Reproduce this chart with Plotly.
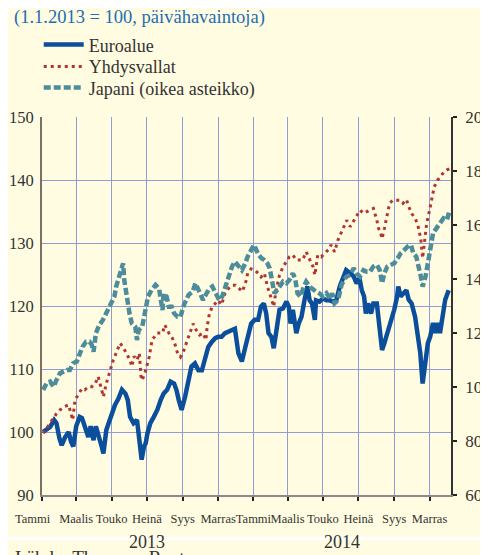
import pandas as pd
import plotly.graph_objects as go

START = pd.Timestamp("2013-01-01")
END = pd.Timestamp("2014-12-08")

# Euroalue (left axis), day offset from 1.1.2013 and index value
euro_days = [2, 8, 14, 21, 25, 30, 34, 40, 46, 50, 54, 59, 65, 69, 74, 80, 84, 89, 93, 99,
             103, 106, 111, 115, 120, 126, 132, 138, 144, 148, 152, 158, 164, 168, 172,
             176, 179, 182, 187, 193, 199, 205, 210, 216, 222, 228, 232, 236, 241, 247, 253,
             258, 264, 270, 276, 281, 287, 293, 299, 304, 310, 316, 322, 328, 333, 339, 345,
             351, 355, 361, 367, 373, 378, 383, 387, 391, 396, 400, 404, 410, 416, 422, 426,
             429, 433, 439, 443, 448, 453, 458, 462, 466, 471, 473, 479, 485, 491, 497, 502,
             508, 514, 520, 525, 532, 538, 543, 548, 552, 556, 559, 563, 568, 572, 578, 583,
             587, 591, 596, 602, 608, 613, 615, 619, 624, 629, 633, 638, 644, 648, 653, 657,
             662, 666, 670, 675, 679, 683, 687, 692, 696, 702]
euro_vals = [100.0, 100.3, 100.8, 101.9, 101.4, 99.0, 97.9, 99.2, 100.0, 98.5, 97.7, 100.9,
             102.4, 102.2, 100.8, 99.2, 100.9, 98.7, 100.9, 99.2, 97.7, 96.6, 100.3, 101.4,
             103.0, 104.3, 105.3, 106.7, 106.1, 105.1, 102.4, 101.4, 101.9, 99.2, 95.6,
             97.7, 98.2, 99.8, 101.4, 102.4, 103.5, 105.1, 106.1, 106.7, 108.0, 107.7, 106.7,
             105.1, 103.5, 105.6, 108.2, 110.4, 110.9, 109.8, 109.8, 111.4, 113.5, 114.3,
             114.9, 115.1, 115.1, 115.7, 115.9, 116.2, 116.4, 112.5, 111.2, 113.5, 115.1,
             117.2, 117.8, 117.8, 119.9, 120.4, 118.8, 115.7, 115.1, 113.3, 115.7, 119.4,
             119.6, 120.7, 119.9, 117.2, 119.4, 115.7, 117.2, 118.3, 120.9, 123.1, 120.9,
             120.4, 117.8, 120.9, 120.7, 121.2, 120.9, 120.9, 120.7, 120.9, 123.1, 124.6,
             125.7, 125.2, 124.7, 123.6, 124.4, 122.5, 121.5, 118.8, 120.4, 118.8, 120.4,
             120.4, 115.7, 113.0, 114.1, 115.7, 117.3, 119.4, 121.5, 123.1, 121.5, 122.0,
             122.5, 121.0, 120.4, 118.3, 115.1, 112.5, 107.7, 112.0, 114.1, 115.1, 117.3,
             115.7, 117.3, 115.7, 118.3, 121.0, 122.5]

# Yhdysvallat (left axis)
us_days = [2, 8, 14, 20, 25, 31, 38, 46, 50, 53, 57, 63, 69, 74, 80, 86, 92, 97, 101, 106,
           111, 118, 123, 130, 135, 141, 146, 152, 155, 159, 164, 168, 171, 173, 179, 185,
           190, 199, 208, 212, 219, 225, 230, 234, 239, 245, 251, 257, 261, 266, 272, 278,
           283, 285, 289, 294, 299, 304, 310, 316, 322, 328, 334, 340, 346, 352, 355, 361,
           367, 373, 378, 384, 389, 393, 397, 400, 404, 410, 416, 422, 427, 433, 439, 445,
           450, 456, 462, 468, 471, 476, 482, 488, 494, 499, 505, 511, 517, 523, 526, 532,
           538, 543, 549, 555, 561, 566, 572, 578, 581, 584, 587, 591, 595, 600, 606, 611,
           617, 623, 629, 633, 638, 644, 648, 652, 654, 657, 662, 664, 669, 673, 677, 683,
           689, 694, 699, 704]
us_vals = [99.8, 100.6, 101.4, 102.4, 102.9, 103.5, 104.0, 104.3, 102.9, 101.9, 105.1, 106.1,
           106.9, 106.7, 107.2, 107.2, 107.7, 108.8, 107.2, 105.6, 107.7, 109.8, 111.4, 113.0,
           114.1, 113.3, 112.5, 111.4, 110.4, 112.0, 111.4, 112.5, 108.8, 108.2, 109.8, 111.9,
           114.6, 115.7, 115.7, 117.0, 115.7, 114.9, 113.8, 112.5, 111.9, 113.0, 114.6, 116.2,
           117.2, 116.2, 115.4, 115.7, 114.6, 116.7, 118.8, 119.9, 120.4, 120.9, 120.2, 122.0,
           122.8, 123.3, 123.3, 122.8, 122.3, 123.9, 125.2, 125.9, 125.7, 125.2, 124.6, 125.2,
           123.1, 122.0, 120.9, 119.9, 122.5, 124.9, 126.2, 127.0, 127.8, 128.1, 127.3, 127.3,
           127.3, 128.6, 127.3, 126.2, 124.9, 128.1, 127.8, 128.4, 128.9, 129.7, 128.6, 130.5,
           131.8, 132.9, 133.6, 132.6, 133.6, 134.2, 135.2, 134.7, 135.0, 135.2, 135.5, 133.6,
           132.3, 131.8, 130.7, 132.3, 133.9, 136.3, 136.8, 136.8, 136.8, 136.3, 136.9, 135.8,
           134.7, 133.9, 133.1, 131.5, 130.5, 127.6, 131.0, 133.1, 135.2, 137.4, 138.9, 140.0,
           140.8, 141.3, 141.6, 141.8]

# Japani (right axis)
jp_days = [2, 8, 14, 20, 25, 31, 37, 43, 48, 54, 60, 65, 70, 76, 82, 86, 89, 93, 99, 105,
           111, 115, 120, 125, 128, 132, 136, 140, 142, 145, 148, 151, 155, 161, 164, 167,
           173, 179, 183, 189, 196, 202, 208, 210, 215, 219, 224, 228, 234, 239, 245, 253,
           260, 265, 272, 278, 284, 289, 294, 300, 306, 311, 317, 322, 328, 333, 339, 345,
           351, 355, 361, 366, 370, 374, 379, 384, 389, 393, 397, 401, 406, 410, 416, 422,
           427, 433, 437, 441, 446, 452, 456, 462, 468, 473, 479, 485, 491, 497, 501, 505,
           511, 517, 523, 526, 532, 538, 543, 549, 555, 561, 566, 572, 578, 583, 587, 591,
           596, 602, 608, 614, 619, 625, 631, 637, 641, 646, 650, 654, 657, 662, 666, 670,
           675, 679, 683, 687, 693, 699, 704]
jp_vals = [98.9, 101.4, 102.0, 100.1, 102.6, 105.1, 105.7, 106.3, 106.3, 108.8, 109.4, 112.5,
           114.9, 116.8, 116.8, 115.6, 113.1, 119.9, 123.0, 124.8, 127.3, 129.7, 131.0, 133.5,
           137.2, 140.2, 142.7, 145.8, 139.6, 134.7, 132.2, 127.3, 123.6, 122.3, 117.4, 121.1,
           122.3, 129.7, 133.5, 135.9, 137.8, 136.5, 128.5, 134.7, 133.5, 129.7, 129.7, 127.3,
           126.0, 126.0, 130.4, 134.1, 135.3, 138.4, 135.3, 132.2, 134.7, 136.5, 137.2, 134.7,
           132.2, 133.5, 137.2, 140.9, 144.6, 146.4, 144.6, 143.3, 145.8, 148.3, 150.7, 152.6,
           150.7, 148.9, 147.7, 147.0, 145.8, 144.0, 139.6, 134.7, 135.9, 137.2, 139.0, 138.4,
           139.6, 142.1, 140.2, 134.7, 133.5, 137.2, 139.0, 137.2, 135.9, 135.3, 134.7, 133.5,
           134.7, 132.8, 134.7, 131.0, 132.2, 137.8, 140.2, 140.9, 141.5, 144.0, 142.1, 140.9,
           143.3, 142.7, 142.7, 144.6, 145.2, 143.3, 138.4, 142.1, 144.6, 145.2, 145.8, 147.7,
           149.5, 150.7, 152.0, 152.6, 149.5, 148.3, 145.2, 140.9, 137.2, 140.9, 145.8, 152.0,
           156.9, 158.2, 159.4, 161.3, 162.5, 161.9, 165.6]

tick_dates = ["2013-01-01", "2013-03-01", "2013-05-01", "2013-07-01", "2013-09-01", "2013-11-01",
              "2014-01-01", "2014-03-01", "2014-05-01", "2014-07-01", "2014-09-01", "2014-11-01"]
tick_labels = ["Tammi", "Maalis", "Touko", "Heinä", "Syys", "Marras",
               "Tammi", "Maalis", "Touko", "Heinä", "Syys", "Marras"]
long_tick_dates = ["2013-01-01", "2013-07-01", "2014-01-01", "2014-07-01"]
years = ["2013", "2014"]
year_pos = ["2013-07-01", "2014-06-03"]


def to_dates(days):
    return [START + pd.Timedelta(days=d) for d in days]


# the first month label sits left of its tick in the original
shown_labels = list(tick_labels)
shown_labels[0] = tick_labels[0] + "\u00a0" * 6

BG = "#FFFCE1"
GRID = "#8E9CDA"
EU = "#0A4E9C"
USC = "#B23530"
JP = "#4C8C9B"
FONT = "Liberation Serif, Times New Roman, serif"

fig = go.Figure()
fig.add_trace(go.Scatter(x=to_dates(jp_days), y=jp_vals, yaxis="y2", mode="lines",
                         name="Japani (oikea asteikko)", legend="legend3",
                         line=dict(color=JP, width=4.5, dash="7px,3px")))
fig.add_trace(go.Scatter(x=to_dates(euro_days), y=euro_vals, mode="lines",
                         name="Euroalue", legend="legend",
                         line=dict(color=EU, width=4.5)))
fig.add_trace(go.Scatter(x=to_dates(us_days), y=us_vals, mode="lines",
                         name="Yhdysvallat", legend="legend2",
                         line=dict(color=USC, width=3, dash="3px,4px")))

leg_common = dict(x=-0.008, xanchor="left", yanchor="top", bgcolor="rgba(0,0,0,0)",
                  font=dict(size=18, color="#333333"), itemwidth=40)

fig.update_layout(
    width=480, height=547,
    margin=dict(l=34, r=37, t=109, b=60, autoexpand=False),
    paper_bgcolor=BG, plot_bgcolor=BG,
    font=dict(family=FONT, color="#333333", size=17),
    showlegend=True,
    legend=dict(y=1.240, **leg_common),
    legend2=dict(y=1.182, **leg_common),
    legend3=dict(y=1.126, **leg_common),
    xaxis=dict(type="date", range=[START, END], tickvals=tick_dates, ticktext=shown_labels,
               tickangle=0, ticklabelstandoff=7,
               ticks="outside", ticklen=4, tickwidth=1.5, tickcolor="#222222",
               showgrid=True, gridcolor=GRID, gridwidth=1.2,
               showline=True, linecolor="#8a8a8a", linewidth=2,
               tickfont=dict(size=12.5), zeroline=False),
    xaxis2=dict(type="date", overlaying="x", matches="x", anchor="y", side="bottom",
                range=[START, END], tickvals=long_tick_dates,
                ticks="outside", ticklen=9, tickwidth=2, tickcolor="#222222",
                showticklabels=False, showgrid=False, showline=False, zeroline=False),
    yaxis=dict(range=[90, 150], dtick=10, showgrid=True, gridcolor=GRID, gridwidth=1.2,
               showline=True, linecolor="#7a7065", linewidth=2, ticks="",
               tickfont=dict(size=16.5), zeroline=False, ticklabelstandoff=3),
    yaxis2=dict(range=[60, 200], dtick=20, overlaying="y", side="right", anchor="x",
                showgrid=False, showline=True, linecolor="#333333", linewidth=1.5,
                ticks="outside", ticklen=4, tickwidth=2, tickcolor="#222222",
                tickfont=dict(size=17), zeroline=False, ticklabelstandoff=5),
)

fig.add_annotation(text="(1.1.2013 = 100, päivähavaintoja)", xref="paper", yref="paper",
                   x=-0.073, y=1.262, xanchor="left", yanchor="middle", showarrow=False,
                   font=dict(size=18.5, color="#1C6DB5"))
for yr, pos in zip(years, year_pos):
    fig.add_annotation(text=yr, xref="x", yref="paper", x=pos, y=-0.124,
                       xanchor="center", yanchor="middle", showarrow=False,
                       font=dict(size=18, color="#333333"))
fig.add_shape(type="line", xref="paper", yref="paper", x0=-0.2, x1=1.2, y0=-0.116, y1=-0.116,
              line=dict(color="#FFFFFF", width=3))
fig.add_annotation(text="Lähde: Thomson Reuters", xref="paper", yref="paper",
                   x=-0.071, y=-0.133, xanchor="left", yanchor="top", showarrow=False,
                   font=dict(size=19, color="#333333"))

fig.write_html("out.html")
